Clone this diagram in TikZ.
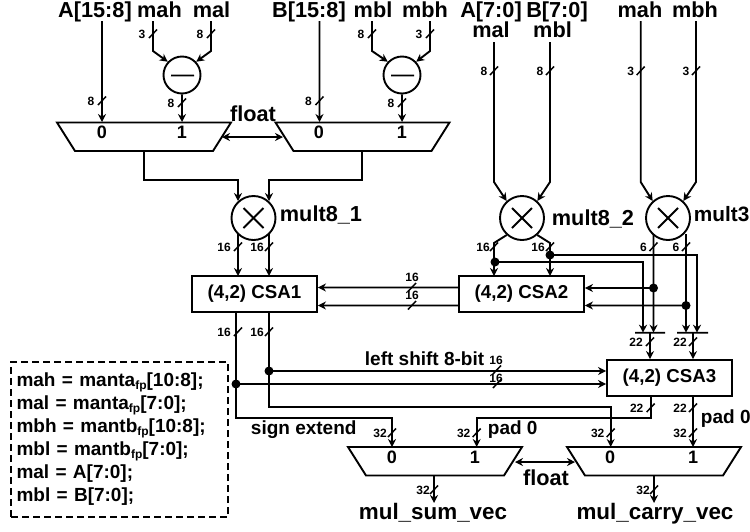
\documentclass[tikz,border=0pt]{standalone}
\usepackage{fontspec}
\setmainfont{Liberation Sans}
\usetikzlibrary{arrows.meta,calc}
\newcounter{bm}
\newcommand{\busm}[4]{% x,y,dx of label, text
  \stepcounter{bm}%
  \draw[line width=1.5pt] (#1-4,#2+4) -- (#1+4,#2-4.5);
  \node[smalltxt] (bm\thebm) at (#1-#3,#2) {#4};}
% straight wire: style, from, to
\newcommand{\wire}[3]{\draw[#1] #2 -- ($#2!.5!#3+(0.04,0.04)$) -- #3;}
% mux: name, centre x, top y
\newcommand{\muxpoly}[3]{%
  \draw (#2-87,#3) -- (#2+87,#3) -- (#2+69,#3+28.5) -- (#2-69,#3+28.5) -- cycle;
  \coordinate (#1) at (#2,#3+14);}
\tikzset{
  x=1pt,y=-1pt,
  every path/.style={line width=1.9pt,line join=miter},
  arr/.style={-{Stealth[length=8pt,width=8pt]}},
  darr/.style={{Stealth[length=8pt,width=8pt]}-{Stealth[length=8pt,width=8pt]}},
  plain/.style={},
  bigtxt/.style={inner sep=0pt,font=\bfseries\fontsize{21.7}{22}\selectfont,text height=15pt,text depth=4pt},
  midtxt/.style={inner sep=0pt,font=\bfseries\fontsize{19}{20}\selectfont,text height=13.5pt,text depth=4pt},
  smalltxt/.style={inner sep=0pt,font=\bfseries\fontsize{12}{12}\selectfont},
  digit/.style={inner sep=0pt,font=\bfseries\fontsize{18}{18}\selectfont},
  opcirc/.style={draw,circle,inner sep=0pt,minimum size=#1},
  csabox/.style={draw,rectangle,minimum width=125pt,minimum height=36pt,inner sep=0pt,font=\bfseries\fontsize{18.7}{19}\selectfont},
  dot/.style={circle,fill=black,inner sep=0pt,minimum size=9pt},
}
\begin{document}
\begin{tikzpicture}
\useasboundingbox (0,0) rectangle (750,531);
% top labels
\node[bigtxt] (lAh) at (95,11.5) {A[15:8]};
\node[bigtxt] (lmah1) at (159.5,11.5) {mah};
\node[bigtxt] (lmal1) at (211.5,11.5) {mal};
\node[bigtxt] (lBh) at (309,11.5) {B[15:8]};
\node[bigtxt] (lmbl1) at (373,11.5) {mbl};
\node[bigtxt] (lmbh1) at (425,11.5) {mbh};
\node[bigtxt] (lAl) at (491,11.5) {A[7:0]};
\node[bigtxt] (lBl) at (557,11.5) {B[7:0]};
\node[bigtxt] (lmal2) at (491,32) {mal};
\node[bigtxt] (lmbl2) at (552.5,32) {mbl};
\node[bigtxt] (lmah2) at (640,11.5) {mah};
\node[bigtxt] (lmbh2) at (695,11.5) {mbh};
% operators
\node[opcirc=37pt] (sub1) at (182,75) {};
\node[opcirc=37pt] (sub2) at (402,75) {};
\node[opcirc=44pt] (m1) at (253.5,218) {};
\node[opcirc=44pt] (m2) at (522,218) {};
\node[opcirc=44pt] (m3) at (668,218) {};
\wire{plain}{(171,75.5)}{(194,75.5)}
\wire{plain}{(391,75.5)}{(414,75.5)}
\draw (m1.center)+(-10,-10) -- +(10,10);
\draw (m1.center)+(-10,10) -- +(10,-10);
\draw (m2.center)+(-10,-10) -- +(10,10);
\draw (m2.center)+(-10,10) -- +(10,-10);
\draw (m3.center)+(-10,-10) -- +(10,10);
\draw (m3.center)+(-10,10) -- +(10,-10);
\node[bigtxt,anchor=west] (lm1) at (279,216) {mult8\_1};
\node[bigtxt,anchor=west] (lm2) at (551,219.5) {mult8\_2};
\node[bigtxt,anchor=west,font=\bfseries\fontsize{20.8}{22}\selectfont] (lm3) at (693,216) {mult3};
% muxes
\muxpoly{mux1}{144}{122.5}
\muxpoly{mux2}{362.5}{122.5}
\muxpoly{mux3}{435}{447}
\muxpoly{mux4}{654}{447}
\node[digit] (d10) at (102,132.5) {0};
\node[digit] (d11) at (182,132.5) {1};
\node[digit] (d20) at (319,132.5) {0};
\node[digit] (d21) at (402,132.5) {1};
\node[digit] (d30) at (392,457.5) {0};
\node[digit] (d31) at (475,457.5) {1};
\node[digit] (d40) at (610,457.5) {0};
\node[digit] (d41) at (693,457.5) {1};
% CSAs
\node[csabox] (csa1) at (254.5,294) {(4,2) CSA1};
\node[csabox] (csa2) at (521.5,294) {(4,2) CSA2};
\node[csabox] (csa3) at (669.5,378) {(4,2) CSA3};
% bars
\coordinate (bar1) at (650,332.7);
\coordinate (bar2) at (693,332.7);
\wire{plain}{(635,332.7)}{(665,332.7)}
\wire{plain}{(677,332.7)}{(708,332.7)}
% dots
\node[dot] (dA) at (495,262) {};
\node[dot] (dB) at (550,255) {};
\node[dot] (dC) at (653.5,288) {};
\node[dot] (dD) at (686,305.5) {};
\node[dot] (dE) at (269,371) {};
\node[dot] (dF) at (236,384) {};
% top connectors
\wire{arr}{(102,21)}{(102,122)}
\draw[arr] (153,21) -- (153,51) -- (sub1.137);
\draw[arr] (211,21) -- (211,51) -- (sub1.43);
\wire{arr}{(sub1.south)}{(182,122)}
\wire{arr}{(319.5,21)}{(319.5,122)}
\draw[arr] (372,21) -- (372,51) -- (sub2.137);
\draw[arr] (430,21) -- (430,51) -- (sub2.43);
\wire{arr}{(sub2.south)}{(402,122)}
\wire{darr}{(222,137)}{(283,137)}
\node[bigtxt] (lf1) at (253,116) {float};
\draw[arr] (144,151) -- (144,180) -- (238,180) -- (238,201);
\draw[arr] (362,151) -- (362,180) -- (269,180) -- (269,201);
\draw[arr] (494,42) -- (494,182) -- (m2.132);
\draw[arr] (550,42) -- (550,182) -- (m2.48);
\draw[arr] (640.7,21) -- (640.7,182) -- (m3.132);
\draw[arr] (696,21) -- (696,182) -- (m3.48);
% m1 to csa1
\wire{arr}{(238,233)}{(238,276)}
\wire{arr}{(269,233)}{(269,276)}
% m2 to csa2
\draw[arr] (m2.228) -- (494,243) -- (494,276);
\draw[arr] (m2.312) -- (550,243) -- (550,276);
\draw[arr] (dB.center) -- (697,255) -- (697,332.7);
\draw[arr] (dA.center) -- (643,262) -- (643,332.7);
% m3
\wire{arr}{(653.5,234)}{(653.5,332.7)}
\wire{arr}{(686,234)}{(686,332.7)}
\wire{arr}{(dC.center)}{(csa2.east |- dC)}
\wire{arr}{(dD.center)}{(csa2.east |- dD)}
% csa2 to csa1
\wire{arr}{(csa2.west |- 0,287.5)}{(csa1.east |- 0,287.5)}
\wire{arr}{(csa2.west |- 0,305.5)}{(csa1.east |- 0,305.5)}
% bars to csa3
\wire{arr}{(bar1)}{(bar1 |- csa3.north)}
\wire{arr}{(bar2)}{(bar2 |- csa3.north)}
% csa1 out
\draw[arr] (269,312) -- (269,407) -- (610.7,407) -- (610.7,447);
\draw[arr] (236,312) -- (236,418) -- (392,418) -- (392,447);
\wire{arr}{(dE.center)}{(csa3.west |- dE)}
\wire{arr}{(dF.center)}{(csa3.west |- dF)}
% csa3 out
\draw[arr] (650.7,396) -- (650.7,418) -- (476.7,418) -- (476.7,447);
\wire{arr}{(693,396)}{(693,447)}
% mux outs
\wire{darr}{(515,462)}{(575,462)}
\wire{arr}{(434,475)}{(434,503)}
\wire{arr}{(654,475)}{(654,503)}
% texts
\node[midtxt,anchor=west] (lshift) at (364,361) {left shift 8-bit};
\node[midtxt,anchor=west] (lsign) at (250,430) {sign extend};
\node[midtxt,anchor=west] (lpad1) at (487,430) {pad 0};
\node[midtxt,anchor=west] (lpad2) at (700,418.5) {pad 0};
\node[bigtxt] (lf2) at (546,479.5) {float};
\node[bigtxt,font=\bfseries\fontsize{22.4}{24}\selectfont] (lsum) at (433,513.5) {mul\_sum\_vec};
\node[bigtxt,font=\bfseries\fontsize{22.4}{24}\selectfont] (lcarry) at (655,513.5) {mul\_carry\_vec};
% bus marks
\busm{102}{101}{11}{8}
\busm{153}{34}{11}{3}
\busm{211}{34}{11}{8}
\busm{182}{103}{11}{8}
\busm{319.5}{101}{11}{8}
\busm{372}{34}{11}{8}
\busm{430}{34}{11}{3}
\busm{402}{103}{11}{8}
\busm{494}{71}{10}{8}
\busm{550}{71}{10}{8}
\busm{640.7}{71}{10}{3}
\busm{696}{71}{10}{3}
\busm{238}{247}{14}{16}
\busm{269}{247}{12}{16}
\busm{494}{247}{11}{16}
\busm{550}{247}{12}{16}
\busm{653.5}{247}{10}{6}
\busm{686}{247}{10}{6}
\busm{412}{287.5}{0}{}
\busm{412}{305.5}{0}{}
\node[smalltxt] (n16a) at (412,277) {16};
\node[smalltxt] (n16b) at (412,295) {16};
\busm{238}{332}{14}{16}
\busm{269}{332}{12}{16}
\busm{650}{342}{14}{22}
\busm{693}{342}{13}{22}
\busm{497}{370}{0}{}
\busm{497}{384}{0}{}
\node[smalltxt] (n16c) at (496,360) {16};
\node[smalltxt] (n16d) at (496,378) {16};
\busm{650.7}{408}{14}{22}
\busm{693}{408}{13}{22}
\busm{392}{433}{12}{32}
\busm{476.7}{433}{13}{32}
\busm{610.7}{433}{13}{32}
\busm{693}{433}{13}{32}
\busm{434}{490}{11}{32}
\busm{654}{490}{11}{32}
% notes
\newcommand{\fpsub}{\raisebox{-3pt}{\fontsize{12}{12}\selectfont fp}}
\node[draw,dash pattern=on 7pt off 4pt,minimum width=217pt,minimum height=155pt,inner sep=5.5pt,text width=206pt,align=left,font=\bfseries\fontsize{19}{23}\selectfont] (notes) at (119.5,439.5)
 {mah = manta\fpsub[10:8];\\ mal = manta\fpsub[7:0];\\ mbh = mantb\fpsub[10:8];\\ mbl = mantb\fpsub[7:0];\\ mal = A[7:0];\\ mbl = B[7:0];};
\end{tikzpicture}
\end{document}
